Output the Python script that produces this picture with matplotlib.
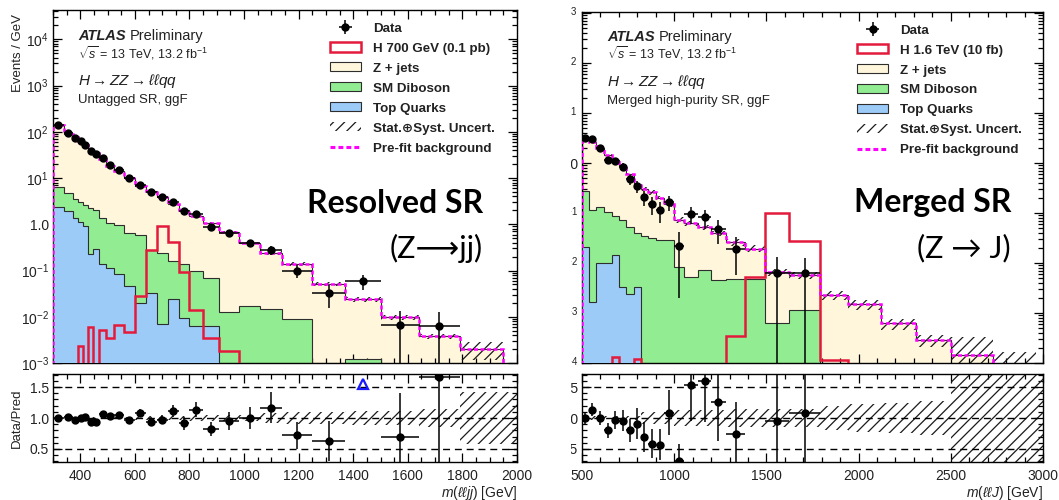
import numpy as np
import matplotlib
matplotlib.use("Agg")
import matplotlib.pyplot as plt
from matplotlib.patches import Patch, Rectangle
from matplotlib.lines import Line2D
from matplotlib.ticker import (FixedLocator, MultipleLocator, LogLocator,
                               FuncFormatter, NullFormatter, FormatStrFormatter)

nan = np.nan

# ---------------- Resolved SR (left panel) ----------------
res_edges = [300, 340, 372, 392, 410, 428, 448, 468, 495, 525, 560, 600, 640, 680,
             720, 760, 800, 850, 910, 980, 1060, 1140, 1250, 1370, 1500, 1640, 1790, 1950]
res_data = [142, 93, 74, 63, 52, 39, 33, 27, 19, 15, 9.9, 7.2, 4.9, 3.8, 3.0, 1.9, 1.7,
            0.89, 0.65, 0.39, 0.28, 0.099, 0.032, 0.060, 0.0067, 0.0063, nan]
res_zjets = [135.7, 86.2, 72.5, 59.9, 48.4, 39.7, 33.0, 24.1, 17.25, 13.45, 9.55, 6.1,
             4.92, 3.66, 2.54, 1.935, 1.4, 1.01, 0.667, 0.3725, 0.225, 0.129, 0.04998,
             0.02276, 0.0089, 0.0032, 0.0016]
res_diboson = [3.98, 2.83, 2.15, 2.0, 1.67, 2.074, 1.71, 1.262, 0.934, 0.867, 0.603, 0.58,
               0.248, 0.233, 0.136, 0.1257, 0.0937, 0.0637, 0.0128, 0.0175, 0.015, 0.0089,
               0.00102, 0.00124, 0.0008, 0.0006, 0.0004]
res_top = [2.32, 1.97, 1.35, 1.1, 0.93, 0.226, 0.29, 0.138, 0.116, 0.083, 0.047, 0.020,
           0.032, 0.0069, 0.024, 0.0093, 0.0063, 0.0063, 0, 0, 0, 0, 0, 0, 0, 0, 0]
res_prefit = [142, 91, 76, 63, 51, 42, 35, 25.5, 18.3, 14.4, 10.2, 6.7, 5.2, 3.9, 2.7,
              2.07, 1.5, 1.08, 0.68, 0.39, 0.24, 0.138, 0.051, 0.024, 0.0097, 0.0038, 0.0020]
res_signal = [0, 0, 0, 0.0023, 0, 0.006, 0, 0.0051, 0.0035, 0.0066, 0.0047, 0.028, 0.28,
              0.9, 0.42, 0.094, 0.0137, 0.0035, 0.0018, 0, 0, 0, 0, 0, 0, 0, 0]
res_unc = [0.015] * 11 + [0.03] * 5 + [0.05] * 4 + [0.08, 0.09, 0.10, 0.11, 0.12, 0.14, 0.42]

# ---------------- Merged SR (right panel) ----------------
mer_edges = [500, 537, 575, 620, 660, 700, 740, 780, 818, 858, 900, 945, 1000, 1055, 1130,
             1200, 1280, 1385, 1495, 1625, 1790, 1945, 2120, 2310, 2500, 2730, 2960]
mer_data = [3.1, 3.0, 1.97, 1.16, 1.12, 0.835, 0.48, 0.346, 0.207, 0.153, 0.113, 0.163,
            0.022, 0.095, 0.083, 0.049, 0.0192, nan, 0.0063, 0.0062, nan, nan, nan, nan, nan, nan]
mer_zjets = [2.82, 2.537, 1.84, 1.345, 1.065, 0.799, 0.548, 0.341, 0.266, 0.228, 0.1715,
             0.1215, 0.0647, 0.0568, 0.0448, 0.0344, 0.0213, 0.0148, 0.00598, 0.00456,
             0.0023, 0.0015, 0.00062, 0.00029, 0.000145, 0.00008]
mer_diboson = [0.259, 0.111, 0.120, 0.095, 0.071, 0.068, 0.050, 0.036, 0.034, 0.032, 0.0285,
               0.0285, 0.0083, 0.0052, 0.0072, 0.0046, 0.0047, 0.0047, 0.00062, 0.00114,
               0, 0, 0, 0, 0, 0]
mer_top = [0.021, 0.00166, 0.0098, 0.0098, 0.0144, 0.0033, 0.0024, 0.0033, 0, 0, 0, 0, 0,
           0, 0, 0, 0, 0, 0, 0, 0, 0, 0, 0, 0, 0]
mer_prefit = [3.1, 2.65, 1.97, 1.45, 1.15, 0.87, 0.6, 0.38, 0.3, 0.26, 0.2, 0.15, 0.073,
              0.062, 0.052, 0.039, 0.026, 0.0195, 0.0066, 0.0057, 0.0023, 0.0015, 0.00062,
              0.00029, 0.000145, 0.00008]
mer_signal = [0, 0, 0, 0, 1.3e-4, 0, 0, 1.2e-4, 0, 0, 0, 0, 0, 0, 0, 0, 3.4e-4, 0.0052,
              0.098, 0.0277, 1.15e-4, 0, 0, 0, 0, 0]
mer_unc = [0.04] * 8 + [0.1] * 4 + [0.13] * 4 + [0.15] * 4 + [0.2, 0.22, 0.25, 0.28] + [1.3, 1.1]

legend_labels_res = ["Data", "H 700 GeV (0.1 pb)", "Z + jets", "SM Diboson", "Top Quarks",
                     "Stat.\u2295Syst. Uncert.", "Pre-fit background"]
legend_labels_mer = ["Data", "H 1.6 TeV (10 fb)", "Z + jets", "SM Diboson", "Top Quarks",
                     "Stat.\u2295Syst. Uncert.", "Pre-fit background"]

# ---------------- style ----------------
plt.rcParams['font.family'] = ['Liberation Sans', 'DejaVu Sans']
plt.rcParams['mathtext.fontset'] = 'custom'
plt.rcParams['mathtext.rm'] = 'Liberation Sans'
plt.rcParams['mathtext.it'] = 'Liberation Sans:italic'
plt.rcParams['mathtext.bf'] = 'Liberation Sans:bold'
plt.rcParams['hatch.linewidth'] = 0.9

C_Z = '#fff6dc'
C_DIB = '#92ec92'
C_TOP = '#9ccbf8'
C_SIG = '#e41a3c'
C_EDGE = '#2e2e2e'
TXT = '#222222'

W, H = 1059, 500
fig = plt.figure(figsize=(W / 100, H / 100), dpi=100)
fig.patch.set_facecolor('white')


def ax_rect(left, top, right, bottom):
    return [left / W, 1 - bottom / H, (right - left) / W, (bottom - top) / H]


def ftext(px, py, s, **kw):
    kw.setdefault('color', TXT)
    fig.text(px / W, 1 - py / H, s, **kw)


def log_fmt(v, pos):
    e = int(round(np.log10(v)))
    if e == 0:
        return '1.0'
    return r'$10^{%d}$' % e


def draw_panel(axm, axr, edges, data, zjets, dib, top, prefit, signal, unc,
               xlim, ylim, rylim, labels, xlabel, xmajor, xminor):
    edges = np.asarray(edges, float)
    data = np.asarray(data, float)
    zjets, dib, top, prefit, signal, unc = [np.asarray(a, float) for a in
                                            (zjets, dib, top, prefit, signal, unc)]
    tiny = 1e-9
    width = np.diff(edges)
    centers = 0.5 * (edges[1:] + edges[:-1])
    c_top = top
    c_dib = top + dib
    c_tot = top + dib + zjets

    axm.set_yscale('log')
    axm.stairs(np.clip(c_tot, tiny, None), edges, baseline=tiny, fill=True,
               facecolor=C_Z, edgecolor=C_EDGE, lw=0.8, zorder=1)
    axm.stairs(np.clip(c_dib, tiny, None), edges, baseline=tiny, fill=True,
               facecolor=C_DIB, edgecolor=C_EDGE, lw=0.8, zorder=2)
    axm.stairs(np.clip(c_top, tiny, None), edges, baseline=tiny, fill=True,
               facecolor=C_TOP, edgecolor=C_EDGE, lw=0.8, zorder=3)
    hi = c_tot * (1 + unc)
    lo = np.clip(c_tot * (1 - unc), tiny, None)
    axm.stairs(hi, edges, baseline=lo, fill=True, facecolor='none',
               edgecolor='#1a1a1a', lw=0, hatch='///', zorder=4)
    axm.stairs(np.clip(signal, tiny, None), edges, baseline=tiny, fill=False,
               edgecolor=C_SIG, lw=1.8, zorder=5)
    axm.stairs(np.clip(prefit, tiny, None), edges, baseline=tiny, fill=False,
               edgecolor='#ff00ff', lw=1.8, linestyle=(0, (1.6, 1.0)), zorder=6)

    m = np.isfinite(data)
    err = np.sqrt(np.where(m, data, 0) * width) / width
    lo_err = np.minimum(err, np.where(m, data, 0) * (1 - 1e-6))
    dat = axm.errorbar(centers[m], data[m], xerr=width[m] / 2, yerr=[lo_err[m], err[m]],
                       fmt='o', color='black', ms=5, elinewidth=1.1, capsize=0, zorder=8)

    axm.set_xlim(*xlim)
    axm.set_ylim(*ylim)

    handles = [dat,
               Patch(facecolor='white', edgecolor=C_SIG, lw=1.8),
               Patch(facecolor=C_Z, edgecolor=C_EDGE, lw=0.8),
               Patch(facecolor=C_DIB, edgecolor=C_EDGE, lw=0.8),
               Patch(facecolor=C_TOP, edgecolor=C_EDGE, lw=0.8),
               Patch(facecolor='white', edgecolor='#1a1a1a', lw=0, hatch='///'),
               Line2D([], [], color='#ff00ff', lw=2.2, linestyle=(0, (1.6, 1.0)))]
    leg = axm.legend(handles, labels, loc='upper left', bbox_to_anchor=(0.597, 0.965),
                     frameon=False, borderpad=0, borderaxespad=0, handlelength=2.3,
                     handleheight=0.68, handletextpad=0.9, labelspacing=0.58,
                     prop=dict(size=9.6, weight='bold'))
    for t in leg.get_texts():
        t.set_color(TXT)

    # ratio panel
    ratio = data / c_tot
    rerr = err / c_tot
    rlo = lo_err / c_tot
    redges = edges.copy()
    redges[-1] = xlim[1]
    axr.stairs(1 + unc, redges, baseline=1 - unc, fill=True, facecolor='none',
               edgecolor='#1a1a1a', lw=0, hatch='///', zorder=2)
    for yv in (0.5, 1.0, 1.5):
        axr.axhline(yv, color='black', lw=1.0, ls=(0, (5, 3.5)), zorder=3)
    inside = m & (ratio <= rylim[1])
    over = m & (ratio > rylim[1])
    axr.errorbar(centers[inside], ratio[inside], xerr=width[inside] / 2,
                 yerr=[rlo[inside], rerr[inside]], fmt='o', color='black', ms=5,
                 elinewidth=1.1, capsize=0, zorder=5)
    axr.plot(centers[over], np.full(over.sum(), 1.55), '^', mfc='none', mec='#1a1aff',
             ms=6.5, mew=1.6, zorder=6)
    axr.set_ylim(*rylim)

    # ticks
    for a in (axm, axr):
        a.tick_params(which='both', direction='in', top=True, right=True,
                      labelsize=10, labelcolor=TXT, width=0.9)
        a.tick_params(which='major', length=6.5)
        a.tick_params(which='minor', length=3.5)
        a.tick_params(axis='y', pad=3)
        a.tick_params(axis='x', pad=5)
        for sp in a.spines.values():
            sp.set_linewidth(1.0)
        a.xaxis.set_major_locator(MultipleLocator(xmajor))
        a.xaxis.set_minor_locator(MultipleLocator(xminor))
    axm.tick_params(labelbottom=False)
    axm.yaxis.set_major_locator(LogLocator(base=10, numticks=20))
    axm.yaxis.set_minor_locator(LogLocator(base=10, subs=np.arange(2, 10), numticks=20))
    axm.yaxis.set_major_formatter(FuncFormatter(log_fmt))
    axm.yaxis.set_minor_formatter(NullFormatter())
    axr.yaxis.set_major_locator(FixedLocator([0.5, 1.0, 1.5]))
    axr.yaxis.set_minor_locator(MultipleLocator(0.1))
    axr.yaxis.set_major_formatter(FormatStrFormatter('%.1f'))
    axr.set_xlim(*xlim)
    axr.set_xlabel(xlabel, fontsize=10, loc='right', color=TXT)
    axr.xaxis.set_label_coords(1.0, -0.245)


ax_rm = fig.add_axes(ax_rect(53, 10, 517, 363))
ax_rr = fig.add_axes(ax_rect(53, 374, 517, 462))
ax_mm = fig.add_axes(ax_rect(582, 12, 1043, 363))
ax_mr = fig.add_axes(ax_rect(582, 374, 1043, 462))

draw_panel(ax_rm, ax_rr, res_edges, res_data, res_zjets, res_diboson, res_top, res_prefit,
           res_signal, res_unc, (300, 2000), (1e-3, 4.3e4), (0.29, 1.71),
           legend_labels_res, r'$m(\ell\ell jj)$ [GeV]', 200, 50)
draw_panel(ax_mm, ax_mr, mer_edges, mer_data, mer_zjets, mer_diboson, mer_top, mer_prefit,
           mer_signal, mer_unc, (500, 3000), (1e-4, 1.05e3), (0.29, 1.71),
           legend_labels_mer, r'$m(\ell\ell J)$ [GeV]', 500, 100)

ax_rm.set_ylabel('Events / GeV', fontsize=9.5, loc='top', color=TXT)
ax_rm.yaxis.set_label_coords(-0.062, 0.99)
ax_rr.set_ylabel('Data/Pred', fontsize=9.5, color=TXT)
ax_rr.yaxis.set_label_coords(-0.064, 0.5)

# ATLAS labels
for x0, region, dy in ((78, 'Untagged SR, ggF', 0), (607, 'Merged high-purity SR, ggF', 1)):
    ftext(x0, 40 + dy, 'ATLAS', fontsize=10.5, fontweight='bold', fontstyle='italic', va='baseline')
    ftext(x0 + 52, 40 + dy, 'Preliminary', fontsize=10.5, va='baseline')
    ftext(x0, 58 + dy, r'$\sqrt{s}$ = 13 TeV, 13.2 fb$^{-1}$', fontsize=9, va='baseline')
    ftext(x0, 85 + dy, r'$H \rightarrow ZZ \rightarrow \ell\ell qq$', fontsize=11, va='baseline')
    ftext(x0, 103 + dy, region, fontsize=9.5, va='baseline')

# Big annotations
ftext(483, 213, 'Resolved SR', fontsize=23, fontweight='bold', family=['Lato', 'DejaVu Sans'],
      ha='right', va='baseline', color='black')
ftext(483, 258, '(Z\u27f6jj)', fontsize=22, family=['Lato', 'DejaVu Sans'],
      ha='right', va='baseline', color='black')
ftext(1011, 212, 'Merged SR', fontsize=23, fontweight='bold', family=['Lato', 'DejaVu Sans'],
      ha='right', va='baseline', color='black')
ftext(1011, 257, '(Z \u2192 J)', fontsize=22, family=['Lato', 'DejaVu Sans'],
      ha='right', va='baseline', color='black')

# the right plot is cropped on its left side in the composite image
fig.add_artist(Rectangle((534 / W, 0), (571 - 534) / W, 1, transform=fig.transFigure,
                         facecolor='white', edgecolor='none', zorder=10))

fig.savefig('out.png', dpi=100)
